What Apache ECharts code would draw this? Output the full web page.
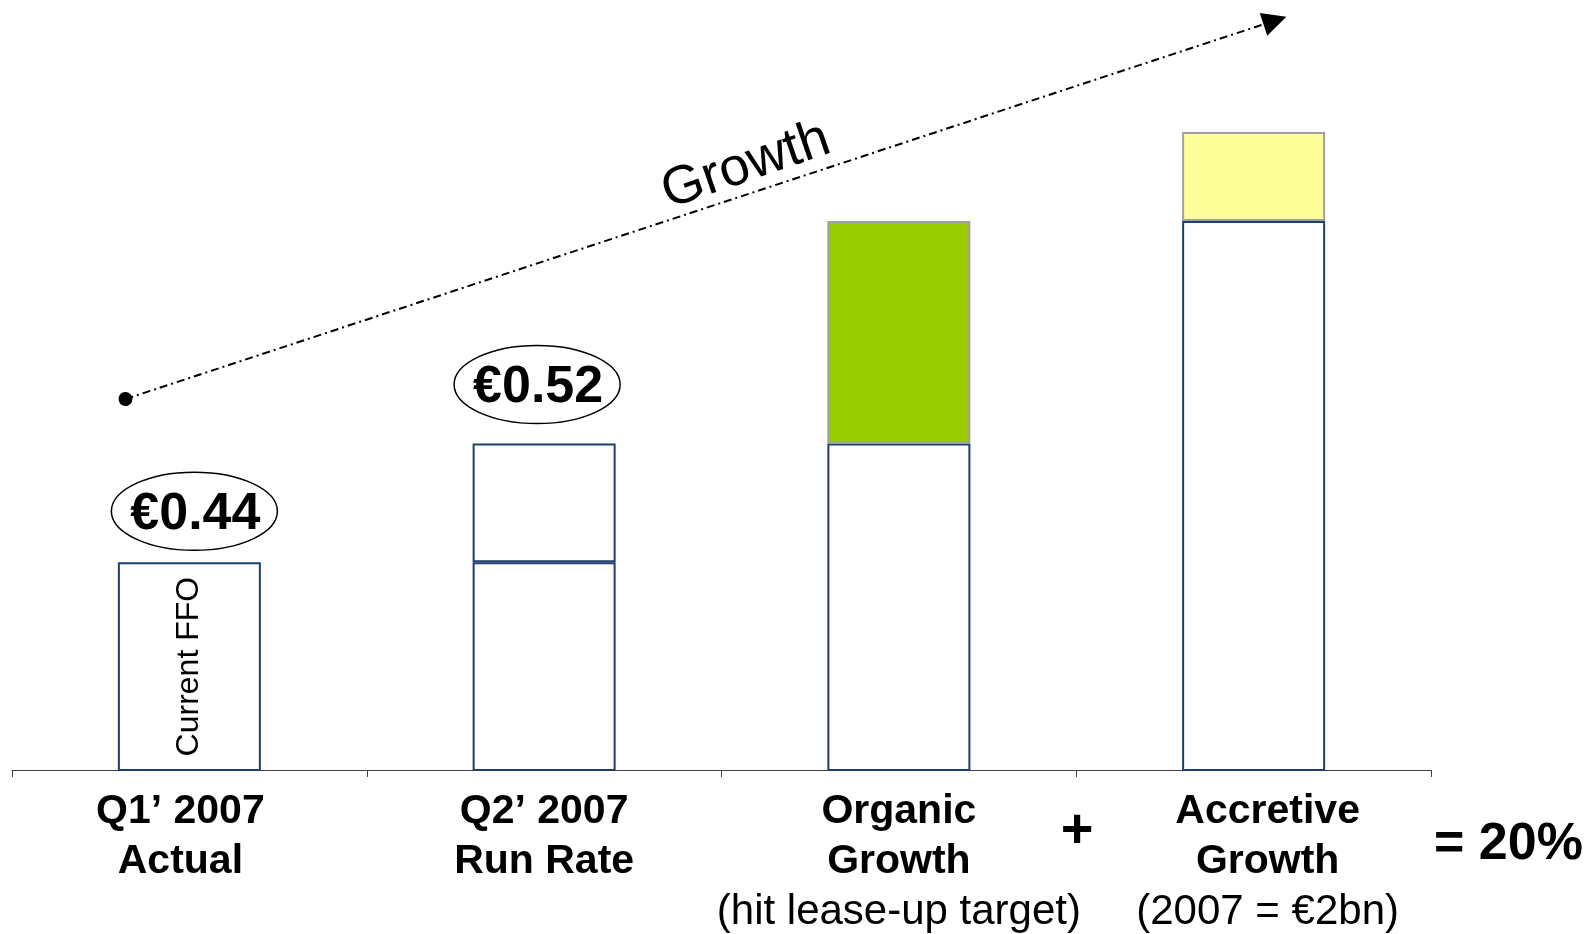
<!DOCTYPE html>
<html>
<head>
<meta charset="utf-8">
<script src="https://cdn.jsdelivr.net/npm/echarts@6/dist/echarts.min.js"></script>
<style>
html, body { margin: 0; padding: 0; background: #fff; }
#chart { width: 1595px; height: 934px; }
</style>
</head>
<body>
<div id="chart"></div>
<script>
// chart values (the bars are only roughly to scale)
var categories = ['Q1 2007 Actual', 'Q2 2007 Run Rate', 'Organic Growth', 'Accretive Growth'];
var labelTitles = [['Q1\u2019 2007', 'Actual'], ['Q2\u2019 2007', 'Run Rate'], ['Organic', 'Growth'], ['Accretive', 'Growth']];
var labelNotes = ['', '', '(hit lease-up target)', '(2007 = \u20ac2bn)'];
var baseValues = [0.44, 0.44, 0.52, 0.67];
var stepValues = [null, 0.08, 0.15, 0.06];
var ffoLabels = ['\u20ac0.44', '\u20ac0.52'];
var growthStart = [-0.18, 0.55];
var growthEnd = [3.06, 0.805];

var navy = '#1c3f6e';
var stepColors = ['#ffffff', '#ffffff', '#99cc00', '#ffff99'];
var stepBorders = [navy, navy, '#a0a0a0', '#a0a0a0'];
var font = '"Liberation Sans", Arial, sans-serif';
// small nudges of the call-outs and labels relative to their bars
var calloutShift = [[5, -51], [-7, -59]];
var labelPad = [[0, 18, 0, 0], [0, 0, 0, 0], [0, 0, 0, 0], [0, 0, 0, 28]];

var myChart = echarts.init(document.getElementById('chart'));

option = {
    animation: false,
    backgroundColor: '#ffffff',
    grid: { left: 12, right: 164, top: 28, bottom: 164, outerBoundsMode: 'none' },
    xAxis: [
        {
            type: 'category',
            data: categories,
            axisLine: { lineStyle: { color: '#404040', width: 1 } },
            axisTick: { show: true, length: 7, lineStyle: { color: '#404040', width: 1 } },
            axisLabel: {
                interval: 0,
                margin: 17,
                formatter: function (value, idx) {
                    var t = labelTitles[idx];
                    var k = idx;
                    var s = '{b' + k + '|' + t[0] + '}\n{b' + k + '|' + t[1] + '}';
                    if (labelNotes[idx]) s += '\n{n' + k + '|' + labelNotes[idx] + '}';
                    return s;
                },
                rich: (function () {
                    var r = {};
                    labelPad.forEach(function (p, i) {
                        r['b' + i] = { fontSize: 41, fontWeight: 'bold', lineHeight: 50, color: '#000', fontFamily: font, padding: p };
                        r['n' + i] = { fontSize: 42, lineHeight: 50, color: '#000', fontFamily: font, padding: p };
                    });
                    return r;
                })()
            }
        },
        // hidden helper axis so the growth arrow can sit between categories
        { type: 'value', min: -0.5, max: 3.5, show: false, splitLine: { show: false } }
    ],
    yAxis: { type: 'value', min: 0.3, max: 0.8, show: false, splitLine: { show: false } },
    series: [
        {
            name: 'base',
            type: 'bar',
            stack: 'ffo',
            barWidth: 143,
            data: baseValues.map(function (v, i) {
                var d = { value: v };
                if (i === 0) {
                    d.label = {
                        show: true, position: 'inside', rotate: 90,
                        formatter: 'Current FFO', fontSize: 32, color: '#000', fontFamily: font
                    };
                }
                return d;
            }),
            itemStyle: { color: '#ffffff', borderColor: navy, borderWidth: 2 }
        },
        {
            name: 'step',
            type: 'bar',
            stack: 'ffo',
            barWidth: 143,
            data: stepValues.map(function (v, i) {
                return {
                    value: v,
                    itemStyle: { color: stepColors[i], borderColor: stepBorders[i], borderWidth: 2 }
                };
            })
        },
        {
            name: 'growth',
            type: 'lines',
            coordinateSystem: 'cartesian2d',
            xAxisIndex: 1,
            yAxisIndex: 0,
            clip: false,
            silent: true,
            z: 5,
            symbol: ['circle', 'triangle'],
            symbolSize: [14, 24],
            lineStyle: { color: '#000', width: 2, opacity: 1, type: [8, 4, 2, 4] },
            data: [{ coords: [growthStart, growthEnd] }]
        }
    ]
};

myChart.setOption(option);

// ellipse call-outs above the first two bars, plus the free text
var graphics = [];
ffoLabels.forEach(function (txt, i) {
    var p = myChart.convertToPixel({ xAxisIndex: 0, yAxisIndex: 0 }, [i, baseValues[i] + (stepValues[i] || 0)]);
    var cx = p[0] + calloutShift[i][0], cy = p[1] + calloutShift[i][1];
    graphics.push({
        type: 'ellipse',
        shape: { cx: cx, cy: cy, rx: 83, ry: 39 },
        style: { fill: '#fff', stroke: '#000', lineWidth: 1.5 }
    });
    graphics.push({
        type: 'text', x: cx + 1, y: cy + 3,
        style: { text: txt, fontSize: 52, fontWeight: 'bold', fontFamily: font, fill: '#000', align: 'center', verticalAlign: 'middle' }
    });
});
graphics.push({
    type: 'text', x: 746, y: 166, rotation: 19 * Math.PI / 180,
    style: { text: 'Growth', fontSize: 54, fontFamily: font, fill: '#000', align: 'center', verticalAlign: 'middle' }
});
graphics.push({
    type: 'text', x: 1077, y: 832,
    style: { text: '+', fontSize: 56, fontWeight: 'bold', fontFamily: font, fill: '#000', align: 'center', verticalAlign: 'middle' }
});
graphics.push({
    type: 'text', x: 1434, y: 845,
    style: { text: '= 20%', fontSize: 52, fontWeight: 'bold', fontFamily: font, fill: '#000', align: 'left', verticalAlign: 'middle' }
});
myChart.setOption({ graphic: graphics });
</script>
</body>
</html>
